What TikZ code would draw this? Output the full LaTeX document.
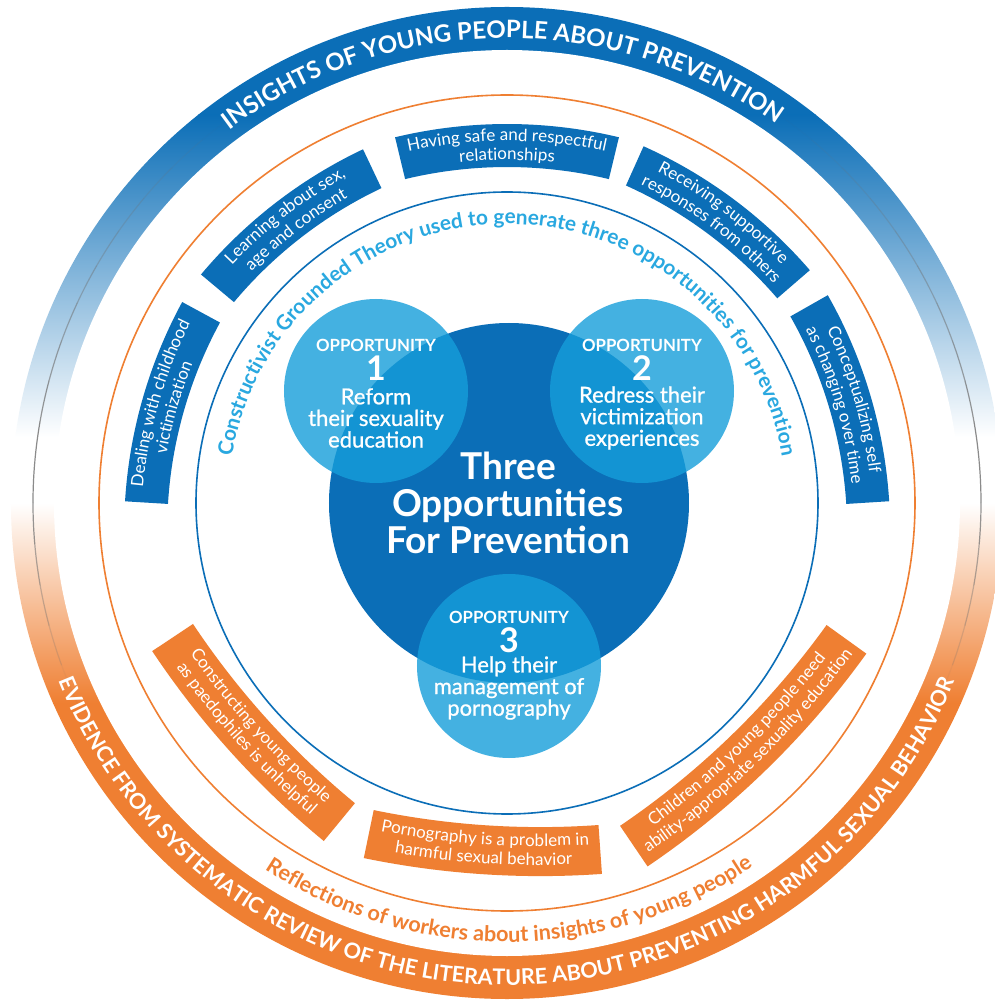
\documentclass[tikz,border=0pt]{standalone}
\usepackage{fontspec}
\setmainfont{Lato}
\newfontfamily\latomed{Lato}[FakeBold=0.9]
\usetikzlibrary{decorations.text}

\definecolor{bandblue}{RGB}{11,110,183}
\definecolor{bandorange}{RGB}{239,127,50}
\definecolor{discblue}{RGB}{22,158,218}
\definecolor{textblue}{RGB}{41,168,224}
\definecolor{ringgray}{RGB}{110,110,110}

\newcommand\boxfont{\fontsize{8.5}{8.5}\selectfont\color{white}}
\newcommand\bandfont{\fontsize{12}{12}\selectfont\bfseries\color{white}}

% text on an arc, read clockwise (top) or anticlockwise (bottom)
\newcommand\toparc[4]{\path[decorate,decoration={text along path,text align=center,text={|#3|#4}}]
  ({#2+80}:#1) arc[start angle={#2+80},end angle={#2-80},radius=#1];}
\newcommand\botarc[4]{\path[decorate,decoration={text along path,text align=center,text={|#3|#4}}]
  ({#2-80}:#1) arc[start angle={#2-80},end angle={#2+80},radius=#1];}

% curved boxes of the two middle rings
\newcommand\topbox[4]{%
  \begin{scope}[shift={({#1+180}:100)}]
    \pgfmathsetmacro\halfang{#2*357/457}
    \fill[bandblue] ({#1-\halfang}:436) arc[start angle={#1-\halfang},end angle={#1+\halfang},radius=436]
      -- ({#1+\halfang}:479) arc[start angle={#1+\halfang},end angle={#1-\halfang},radius=479] -- cycle;
    \toparc{462}{#1}{\boxfont}{#3}
    \toparc{443}{#1}{\boxfont}{#4}
  \end{scope}}
\newcommand\botbox[4]{%
  \begin{scope}[shift={({#1+180}:500)}]
    \pgfmathsetmacro\halfang{#2*347/847}
    \fill[bandorange] ({#1-\halfang}:823) arc[start angle={#1-\halfang},end angle={#1+\halfang},radius=823]
      -- ({#1+\halfang}:872) arc[start angle={#1+\halfang},end angle={#1-\halfang},radius=872] -- cycle;
    \botarc{842}{#1}{\boxfont}{#3}
    \botarc{861}{#1}{\boxfont}{#4}
  \end{scope}}

\tikzset{
  lightdisc/.style={fill=discblue,fill opacity=0.8},
  opplabel/.style={text=white,font=\fontsize{8.4}{8.4}\selectfont\bfseries},
  oppnum/.style={text=white,font=\fontsize{17}{17}\selectfont\bfseries},
  opptext/.style={text=white,align=center,font=\latomed\fontsize{11}{10.8}\selectfont},
  maintext/.style={text=white,align=center,font=\fontsize{18.5}{18.3}\selectfont\bfseries},
}

\begin{document}
\begin{tikzpicture}[x=0.5pt,y=0.5pt]
\fill[white] (-507,-498) rectangle (488,503);
\useasboundingbox (-507,-498) rectangle (488,503);

% outer band, fading from blue to orange
\begin{scope}
  \clip (0,0) circle[radius=496];
  \fill[bandblue] (-510,388) rectangle (510,510);
  \shade[top color=bandblue,bottom color=white] (-510,66) rectangle (510,388);
  \shade[top color=white,bottom color=bandorange] (-510,0) rectangle (510,-200);
  \fill[bandorange] (-510,-200) rectangle (510,-510);
\end{scope}
\fill[white] (0,0) circle[radius=453];
\foreach \a in {0,5,...,355}{
  \pgfmathsetmacro\yy{474*sin(\a+2.5)}
  \pgfmathsetmacro\op{0.8*(1-max(0,min(1,(\yy-66)/322)))*(1-max(0,min(1,-\yy/200)))}
  \draw[ringgray,line width=0.6pt,draw opacity=\op] (\a:474) arc[start angle=\a,end angle=\a+5,radius=474];
}
\toparc{465}{90.6}{\bandfont}{INSIGHTS OF YOUNG PEOPLE ABOUT PREVENTION}
\botarc{482}{270}{\fontsize{10.8}{10.8}\selectfont\bfseries\color{white}}{EVIDENCE FROM SYSTEMATIC REVIEW OF THE LITERATURE ABOUT PREVENTING HARMFUL SEXUAL BEHAVIOR}

% thin rings
\draw[bandorange,line width=0.8pt] (0,0) circle[radius=408];
\draw[bandblue,line width=0.8pt] (0,0) circle[radius=311];
\botarc{439}{270.3}{\fontsize{10.8}{10.8}\selectfont\bfseries\color{bandorange}}{Reflections of workers about insights of young people}
\toparc{279}{90}{\fontsize{10.4}{10.4}\selectfont\bfseries\color{textblue}}{Constructivist Grounded Theory used to generate three opportunities for prevention}

% boxes
\topbox{164}{16}{Dealing with childhood}{victimization}
\topbox{127.7}{15.8}{Learning about sex,}{age and consent}
\topbox{90}{17.3}{Having safe and respectful}{relationships}
\topbox{53.3}{16}{Receiving supportive}{responses from others}
\topbox{16.6}{16.6}{Conceptualizing self}{as changing over time}
\botbox{222.1}{20.6}{Constructing young people}{as paedophiles is unhelpful}
\botbox{266.2}{19.2}{Pornography is a problem in}{harmful sexual behavior}
\botbox{314.2}{24.6}{Children and young people need}{ability-appropriate sexuality education}

% the three opportunities
\fill[bandblue] (2,0) circle[radius=180];
\fill[lightdisc] (-131,112) circle[radius=92];
\fill[lightdisc] (135,112) circle[radius=92];
\fill[lightdisc] (2,-163) circle[radius=92];

\node[maintext] (main) at (1,0) {Three\\Opportunities\\For Prevention};
\node[opplabel] (lbl1) at (-131,158) {OPPORTUNITY};
\node[oppnum] (num1) at (-131,135) {1};
\node[opptext] (txt1) at (-131,85) {Reform\\their sexuality\\education};
\node[opplabel] (lbl2) at (135,158) {OPPORTUNITY};
\node[oppnum] (num2) at (135,135) {2};
\node[opptext] (txt2) at (135,85) {Redress their\\victimization\\experiences};
\node[opplabel] (lbl3) at (2,-114) {OPPORTUNITY};
\node[oppnum] (num3) at (2,-137) {3};
\node[opptext] (txt3) at (2,-185) {Help their\\management of\\pornography};
\end{tikzpicture}
\end{document}
